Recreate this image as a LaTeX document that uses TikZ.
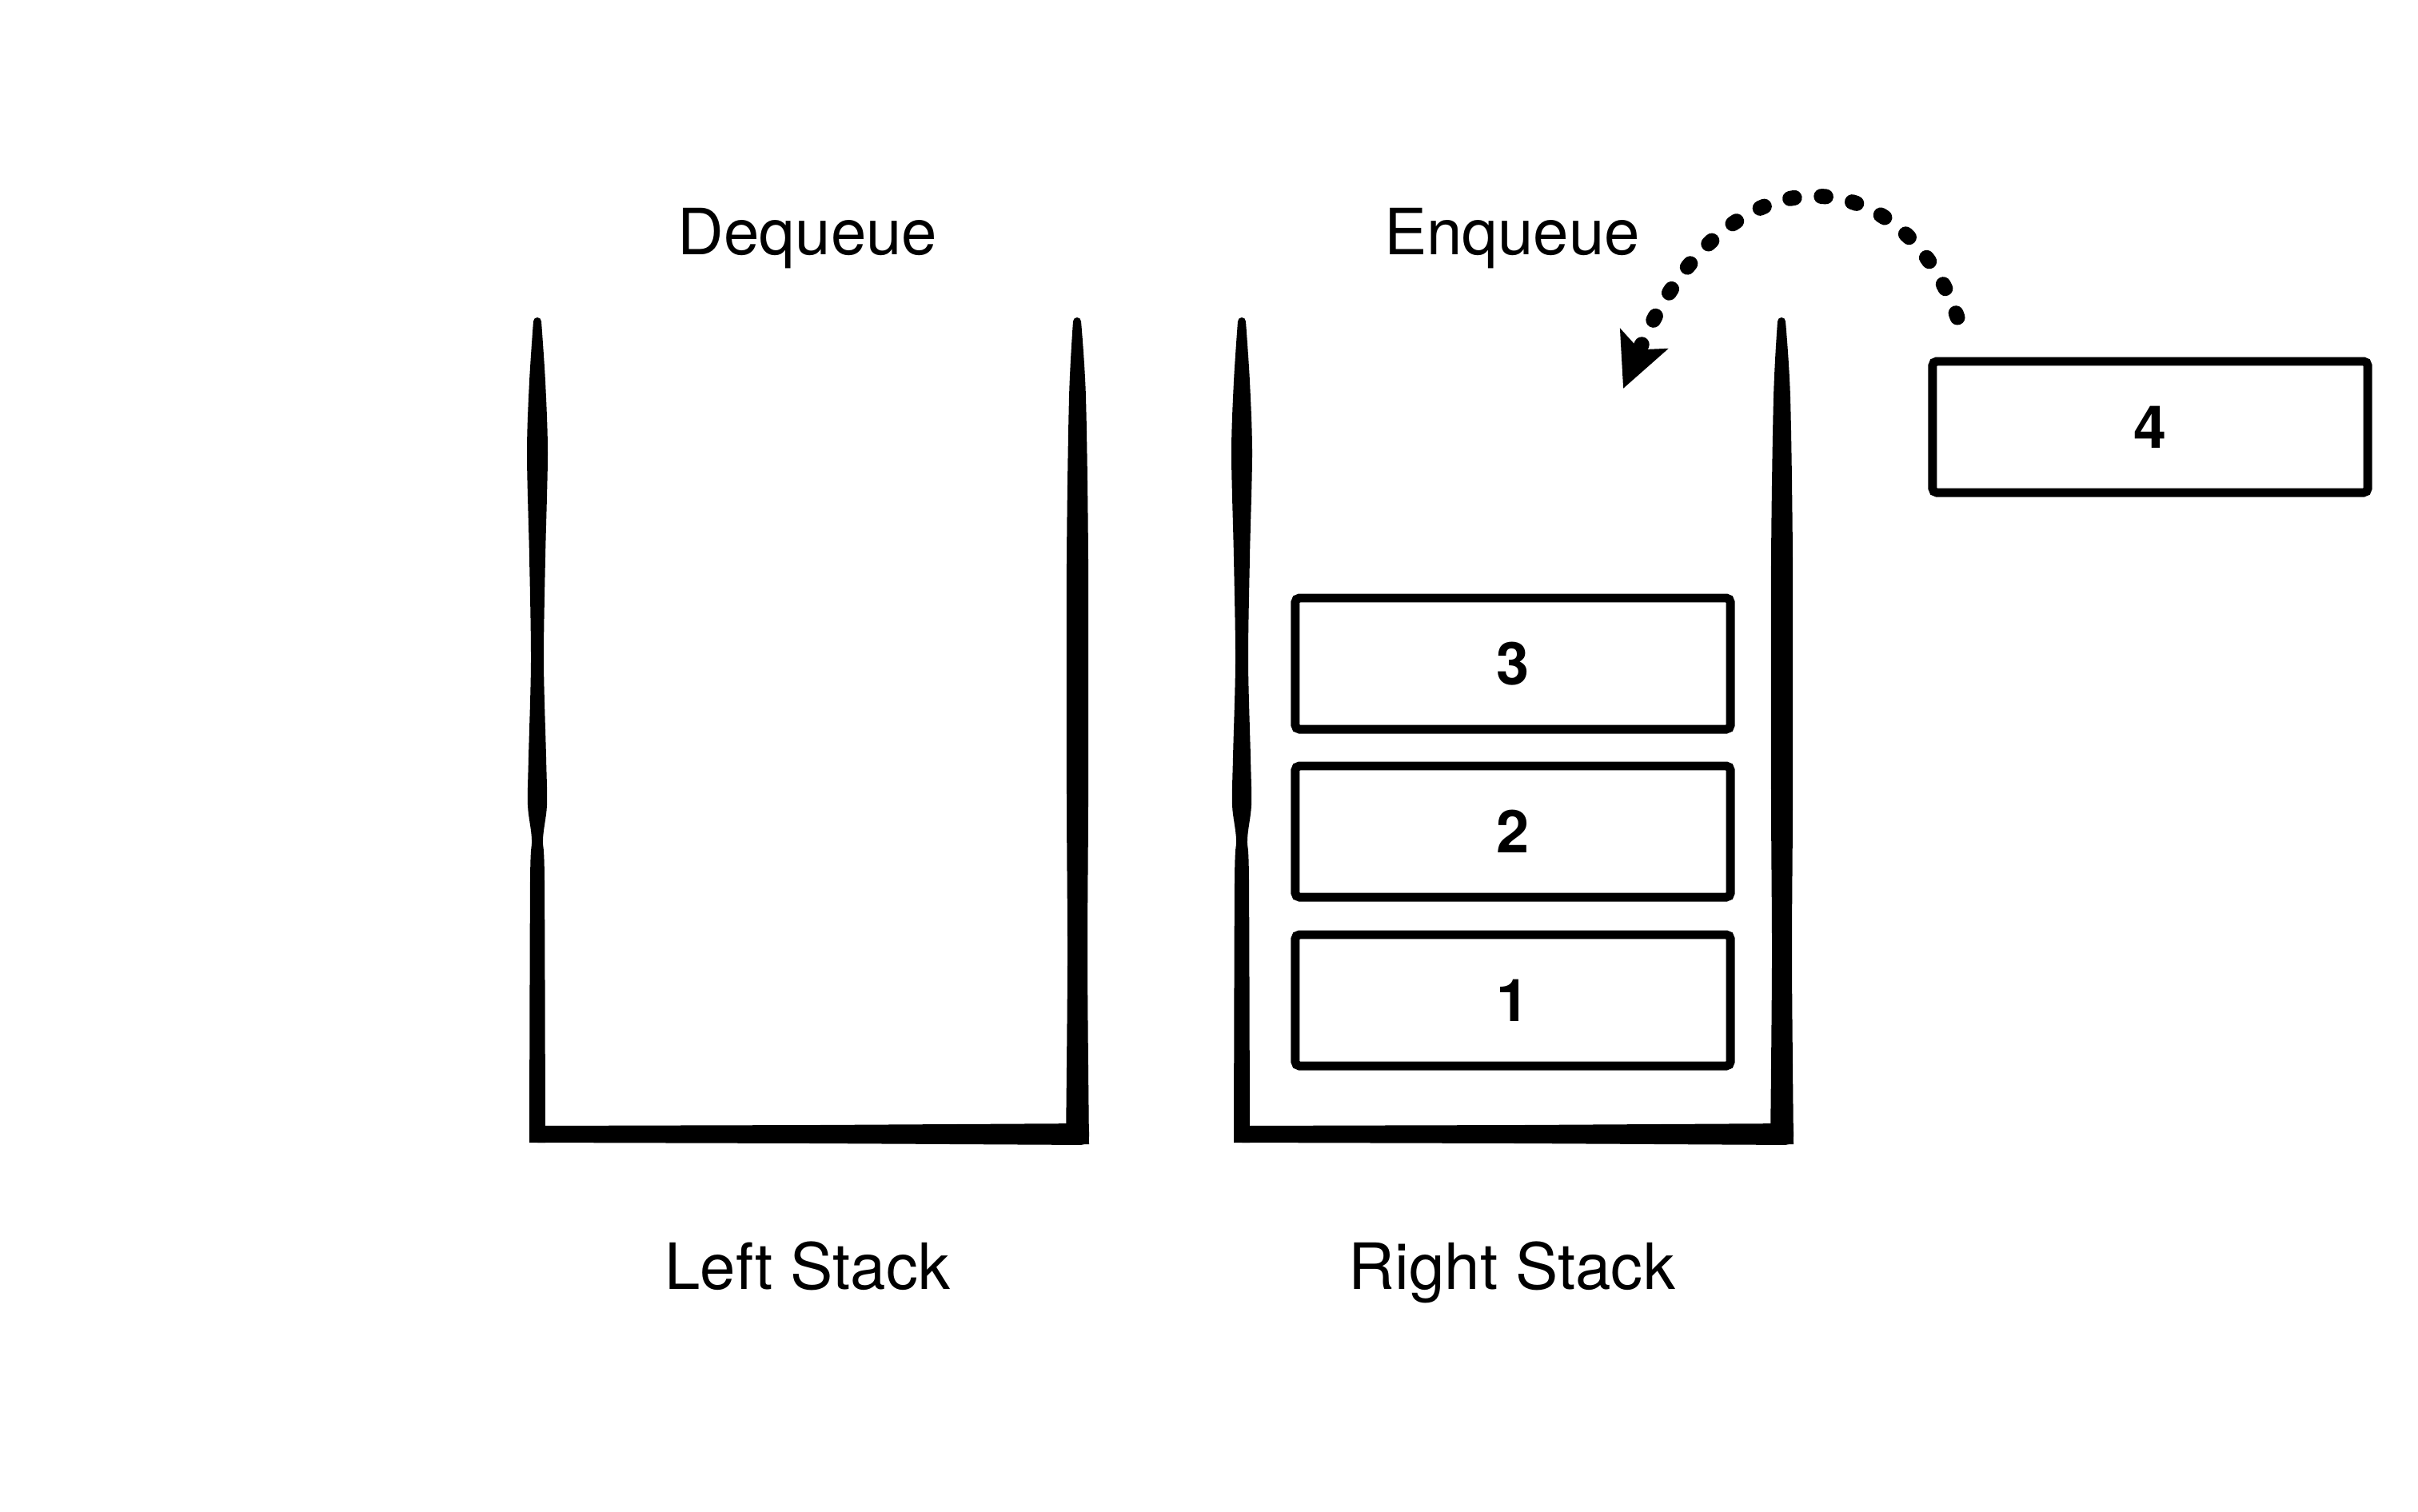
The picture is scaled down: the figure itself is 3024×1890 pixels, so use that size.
\documentclass[tikz,border=0pt]{standalone}
\usepackage{fontspec}
\setmainfont{TeX Gyre Heros}
\usetikzlibrary{arrows.meta}
\tikzset{
  labeltext/.style={font=\fontsize{22.7}{28}\selectfont, anchor=base, inner sep=0pt},
  itembox/.style={draw=black, line width=3.1pt, rounded corners=1.5pt,
    minimum width=5.44cm, minimum height=1.64cm, inner sep=0pt,
    font=\fontsize{21}{25}\selectfont\bfseries},
  dotarrow/.style={line width=5.4pt, line cap=round, dash pattern=on 1.6pt off 9.6pt,
    -{Stealth[length=19pt,width=18pt,inset=4pt]}},
  pics/stackcup/.style={code={
    % left wall
    \fill[black] plot[smooth] coordinates {(-5,0) (-10,75) (-13,165) (-10,295) (-8,425) (-11,545) (-12,605) (-7,648) (-9,700) (-10,1027)}
      -- plot[smooth] coordinates {(10,1027) (9,700) (7,648) (12,605) (11,545) (8,425) (10,295) (13,165) (10,75) (5,0)} -- cycle;
    \fill[black] (0,0) circle (5);
    % right wall
    \fill[black] plot[smooth] coordinates {(670,0) (665,95) (662,300) (662,600) (663,800) (661,1029)}
      -- plot[smooth] coordinates {(690,1029) (688,800) (689,600) (689,300) (686,95) (680,0)} -- cycle;
    \fill[black] (675,0) circle (5);
    % bottom
    \fill[black, rounded corners=3pt] (-10,1006) -- (350,1005) -- (690,1003) -- (690,1030) -- (350,1028) -- (-10,1027) -- cycle;
  }}
}
\begin{document}
\begin{tikzpicture}[x=0.01cm, y=-0.01cm]
  \fill[white] (0,0) rectangle (3024,1890);
  \useasboundingbox (0,0) rectangle (3024,1890);

  % stacks
  \pic (leftcup) at (672,402) {stackcup};
  \pic (rightcup) at (1553,402) {stackcup};

  % labels
  \node[labeltext] (deq) at (1010,318) {Dequeue};
  \node[labeltext] (enq) at (1891,318) {Enqueue};
  \node[labeltext] (lstack) at (1010,1612) {Left Stack};
  \node[labeltext] (rstack) at (1891,1612) {Right Stack};

  % items
  \node[itembox] (b3) at (1892,830) {3};
  \node[itembox] (b2) at (1892,1040) {2};
  \node[itembox] (b1) at (1892,1251) {1};
  \node[itembox] (b4) at (2689,534) {4};

  % enqueue arrow
  \coordinate (arrS) at (2448,397);
  \coordinate (arrE) at (2030,486);
  \draw[dotarrow] (arrS) .. controls (2380,200) and (2160,175) .. (arrE);
\end{tikzpicture}
\end{document}
